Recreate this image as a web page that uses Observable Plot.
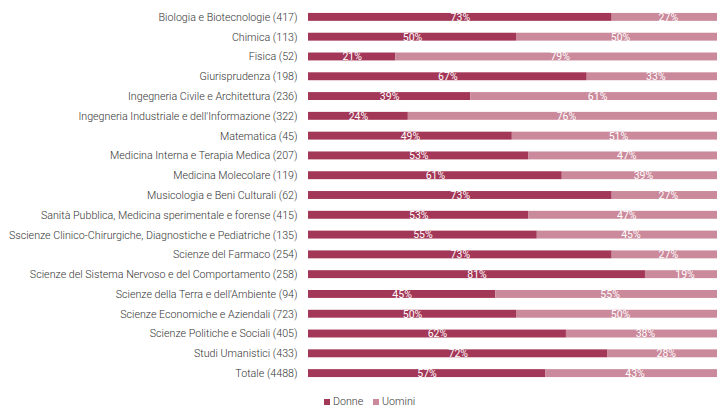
<!DOCTYPE html>
<html><head><meta charset="utf-8">
<script src="https://cdn.jsdelivr.net/npm/d3@7"></script>
<script src="https://cdn.jsdelivr.net/npm/@observablehq/plot@0.6"></script>
<style>
html,body{margin:0;padding:0;background:#fff;overflow:hidden;font-family:Roboto,sans-serif}
#chart svg{overflow:hidden;display:block}
.legend{position:relative;height:17px;font-size:10.7px;font-weight:300;color:#333;font-family:Roboto,sans-serif}
.legend span.item{position:absolute;top:4px;line-height:12px;white-space:nowrap}
.legend i{display:inline-block;width:6px;height:6px;margin-right:3px;vertical-align:0px}
</style></head><body>
<div id="chart"></div>
<div class="legend" id="legend"></div>
<script>
const categories = [
  "Biologia e Biotecnologie",
  "Chimica",
  "Fisica",
  "Giurisprudenza",
  "Ingegneria Civile e Architettura",
  "Ingegneria Industriale e dell'Informazione",
  "Matematica",
  "Medicina Interna e Terapia Medica",
  "Medicina Molecolare",
  "Musicologia e Beni Culturali",
  "Sanità Pubblica, Medicina sperimentale e forense",
  "Sscienze Clinico-Chirurgiche, Diagnostiche e Pediatriche",
  "Scienze del Farmaco",
  "Scienze del Sistema Nervoso e del Comportamento",
  "Scienze della Terra e dell'Ambiente",
  "Scienze Economiche e Aziendali",
  "Scienze Politiche e Sociali",
  "Studi Umanistici",
  "Totale"
];
const counts = [417, 113, 52, 198, 236, 322, 45, 207, 119, 62, 415, 135, 254, 258, 94, 723, 405, 433, 4488];
const donne  = [73, 50, 21, 67, 39, 24, 49, 53, 61, 73, 53, 55, 73, 81, 45, 50, 62, 72, 57];
const uomini = [27, 50, 79, 33, 61, 76, 51, 47, 39, 27, 47, 45, 27, 19, 55, 50, 38, 28, 43];
const seriesNames = ["Donne", "Uomini"];
const seriesColors = ["#a33757", "#cb8a9b"];

const labels = categories.map((c, i) => `${c} (${counts[i]})`);
const data = [];
labels.forEach((l, i) => {
  data.push({label: l, series: "Donne", value: donne[i]});
  data.push({label: l, series: "Uomini", value: uomini[i]});
});

const plot = Plot.plot({
  width: 717, height: 392,
  marginTop: 7, marginBottom: 9, marginLeft: 308, marginRight: 0,
  style: {fontFamily: "Roboto, sans-serif", fontSize: "10.7px", fontWeight: 300, color: "#333", background: "transparent"},
  x: {domain: [0, 100], range: [308, 724], axis: null},
  y: {domain: labels, paddingInner: 0.6, paddingOuter: 0.3, round: false, label: null, tickSize: 0, tickPadding: 11},
  color: {domain: seriesNames, range: seriesColors},
  marks: [
    Plot.barX(data, Plot.stackX({x: "value", y: "label", fill: "series", order: seriesNames})),
    Plot.text(data, Plot.stackX({x: "value", y: "label", z: "series", order: seriesNames,
      text: d => d.value + "%", fill: "white", fontSize: 10.5, fontWeight: 400}))
  ]
});
document.getElementById("chart").appendChild(plot);

const legend = document.getElementById("legend");
const legendX = [324, 373];
seriesNames.forEach((s, i) => {
  const item = document.createElement("span");
  item.className = "item";
  item.style.left = legendX[i] + "px";
  item.innerHTML = `<i style="background:${seriesColors[i]}"></i>${s}`;
  legend.appendChild(item);
});
</script>
</body></html>
